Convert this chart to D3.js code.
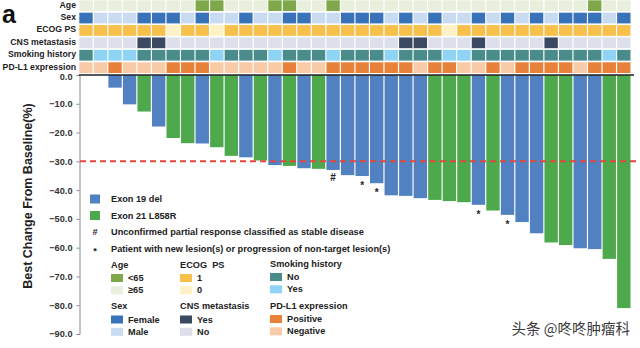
<!DOCTYPE html>
<html>
<head>
<meta charset="utf-8">
<script src="https://cdn.jsdelivr.net/npm/d3@7"></script>
<style>
  body { margin: 0; background: #fff; }
  svg { display: block; font-family: "Liberation Sans", Arial, sans-serif; }
</style>
</head>
<body>
<svg id="chart" width="640" height="348"></svg>
<script>
// best change from baseline per patient, sorted as in the waterfall
const bestChange = [0, 0, -4.4, -10.2, -12.7, -17.9, -21.9, -23.7, -23.8, -25.1,
  -28.1, -28.6, -29.7, -31.3, -31.6, -32.4, -32.6, -33.0, -34.8, -35.1,
  -37.6, -41.8, -42.0, -42.8, -43.4, -43.8, -44.2, -45.1, -47.1, -48.6,
  -51.1, -55.0, -58.2, -59.1, -60.2, -60.5, -63.9, -81.0];
const mutation = ['19', '19', '19', '19', '21', '19', '21', '21', '19', '21',
  '21', '19', '21', '19', '21', '19', '21', '19', '19', '19',
  '19', '19', '19', '19', '21', '21', '21', '19', '21', '19',
  '19', '19', '21', '21', '19', '19', '21', '21'];
const markers = {17: '#', 19: '*', 20: '*', 27: '*', 29: '*'};

// clinical features, 1 = first legend entry
const age = [0,0,0,0,0,0,0,0,1,1, 0,0,0,1,1,0,0,1,0,0, 0,0,0,0,0,0,0,0,0,0, 0,0,0,0,0,1,0,0];
const sex = [1,0,0,0,1,1,1,0,1,0, 0,1,0,0,1,1,0,0,1,1, 1,0,1,0,1,0,0,1,0,1, 0,1,0,1,1,1,0,1];
const ecog = [1,1,1,1,1,1,0,1,1,0, 1,1,1,1,1,1,1,1,1,1, 1,1,1,1,1,0,1,1,1,1, 1,1,1,1,1,1,1,1];
const cns = [0,0,0,0,1,1,0,0,0,0, 0,0,0,0,0,0,0,0,0,0, 0,0,1,1,0,0,0,1,0,0, 0,0,1,0,0,0,0,0];
const smoking = [1,0,0,0,1,1,1,1,1,0, 1,1,1,0,1,1,1,0,1,1, 1,0,1,1,1,0,0,1,1,1, 1,1,1,1,1,1,0,1];
const pdl1 = [0,0,1,0,0,0,1,1,1,0, 0,0,0,0,1,0,0,1,1,1, 1,1,1,0,1,1,0,0,1,0, 1,1,1,1,0,1,1,1];

const rowNames = ['Age', 'Sex', 'ECOG PS', 'CNS metastasis', 'Smoking history', 'PD-L1 expression'];
const rowData = [age, sex, ecog, cns, smoking, pdl1];
// [light, dark] per row; dark = value 1
const rowColors = [
  ['#e8efdc', '#7ea84a'],
  ['#c9dbf1', '#3872b8'],
  ['#fff1c6', '#f7c04a'],
  ['#dde0ea', '#3b4862'],
  ['#8fd3f5', '#4a8b8b'],
  ['#f8caa6', '#e8823a'],
];
const barColors = {'19': '#5181c1', '21': '#4da94b'};
const yTicks = d3.range(0, -91, -10);

const svg = d3.select('#chart');
const ids = d3.range(bestChange.length);

const x = d3.scaleBand().domain(ids).range([79.3, 630.5]).paddingInner(0.08);
const y = d3.scaleLinear().domain([0, -90]).range([75, 334]);
const rowY = d3.scaleBand().domain(rowNames).range([0.3, 73]).paddingInner(0.137);

// heatmap
rowNames.forEach((name, r) => {
  svg.append('g')
    .selectAll('rect')
    .data(ids)
    .join('rect')
    .attr('x', (d) => x(d))
    .attr('y', rowY(name))
    .attr('width', x.bandwidth())
    .attr('height', rowY.bandwidth())
    .attr('fill', (d) => rowColors[r][rowData[r][d]]);

  svg.append('text')
    .attr('x', 76)
    .attr('y', rowY(name) + rowY.bandwidth() / 2 - 1)
    .attr('text-anchor', 'end')
    .attr('dominant-baseline', 'central')
    .style('font-size', '8.7px')
    .style('font-weight', 'bold')
    .attr('fill', '#222')
    .text(name);
});

svg.append('text')
  .attr('x', 2)
  .attr('y', 23)
  .style('font-size', '25px')
  .style('font-weight', 'bold')
  .attr('fill', '#111')
  .text('a');

// bars
svg.append('g')
  .selectAll('rect')
  .data(ids)
  .join('rect')
  .attr('x', (d) => x(d))
  .attr('y', y(0))
  .attr('width', x.bandwidth())
  .attr('height', (d) => y(bestChange[d]) - y(0))
  .attr('fill', (d) => barColors[mutation[d]]);

svg.append('g')
  .selectAll('text')
  .data(Object.keys(markers).map(Number))
  .join('text')
  .attr('x', (d) => x(d) + x.bandwidth() / 2)
  .attr('y', (d) => y(bestChange[d]) + (markers[d] === '#' ? 11 : 13))
  .attr('text-anchor', 'middle')
  .style('font-size', '10px')
  .style('font-weight', 'bold')
  .attr('fill', '#222')
  .text((d) => markers[d]);

// y axis
const yAxis = svg.append('g')
  .attr('transform', 'translate(79.5,0)')
  .call(d3.axisLeft(y).tickValues(yTicks).tickFormat(d3.format('.1f')).tickSize(3).tickPadding(4));
yAxis.select('.domain').attr('stroke', '#888');
yAxis.selectAll('.tick line').attr('stroke', '#888');
yAxis.selectAll('.tick text')
  .style('font-size', '9.2px')
  .style('font-weight', 'bold')
  .style('font-family', '"Liberation Sans", Arial, sans-serif')
  .attr('fill', '#333');
yAxis.selectAll('.tick text').filter((d) => d === 0).attr('dy', '0.32em').attr('y', 1.5);

svg.append('text')
  .attr('transform', 'translate(28,196) rotate(-90)')
  .attr('text-anchor', 'middle')
  .attr('dominant-baseline', 'central')
  .style('font-size', '12.5px')
  .style('font-weight', 'bold')
  .attr('fill', '#222')
  .text('Best Change From Baseline(%)');

// zero line and -30% threshold
svg.append('line')
  .attr('x1', 79).attr('x2', 634)
  .attr('y1', y(0)).attr('y2', y(0))
  .attr('stroke', '#222').attr('stroke-width', 1.5);
svg.append('line')
  .attr('x1', 80).attr('x2', 640)
  .attr('y1', y(-30)).attr('y2', y(-30))
  .attr('stroke', '#e0483c').attr('stroke-width', 2)
  .attr('stroke-dasharray', '6,4');

// legend
const leg = svg.append('g')
  .style('font-size', '9.2px')
  .style('font-weight', 'bold')
  .attr('fill', '#222');

const mutLegend = [['19', 'Exon 19 del', 199], ['21', 'Exon 21 L858R', 215.5]];
mutLegend.forEach(([k, label, cy]) => {
  leg.append('rect').attr('x', 90).attr('y', cy - 4.5).attr('width', 10).attr('height', 9)
    .attr('fill', barColors[k]);
  leg.append('text').attr('x', 111).attr('y', cy).attr('dominant-baseline', 'central').text(label);
});

const noteLegend = [
  ['#', 'Unconfirmed partial response classified as stable disease', 231.7],
  ['*', 'Patient with new lesion(s) or progression of non-target lesion(s)', 248.5],
];
noteLegend.forEach(([sym, label, cy]) => {
  leg.append('text').attr('x', 95).attr('y', cy + (sym === '*' ? 2 : 0))
    .attr('text-anchor', 'middle').attr('dominant-baseline', 'central').text(sym);
  leg.append('text').attr('x', 111).attr('y', cy).attr('dominant-baseline', 'central').text(label);
});

const catLegend = [
  {title: 'Age', row: 0, labels: ['<65', '\u226565'], x: 111, ty: 264.5},
  {title: 'Sex', row: 1, labels: ['Female', 'Male'], x: 111, ty: 306},
  {title: 'ECOG  PS', row: 2, labels: ['1', '0'], x: 180, ty: 264.5},
  {title: 'CNS metastasis', row: 3, labels: ['Yes', 'No'], x: 180, ty: 306},
  {title: 'Smoking history', row: 4, labels: ['No', 'Yes'], x: 270, ty: 263.5},
  {title: 'PD-L1 expression', row: 5, labels: ['Positive', 'Negative'], x: 270, ty: 305.5},
];
catLegend.forEach((g) => {
  leg.append('text').attr('x', g.x).attr('y', g.ty).attr('dominant-baseline', 'central')
    .style('white-space', 'pre').text(g.title);
  g.labels.forEach((label, i) => {
    const cy = g.ty + 13.5 + i * 12.3;
    leg.append('rect').attr('x', g.x).attr('y', cy - 4).attr('width', 12).attr('height', 8)
      .attr('fill', rowColors[g.row][1 - i]);
    leg.append('text').attr('x', g.x + 17).attr('y', cy).attr('dominant-baseline', 'central').text(label);
  });
});

// watermark
svg.append('text')
  .attr('x', 630)
  .attr('y', 334)
  .attr('text-anchor', 'end')
  .style('font-family', '"Noto Sans CJK SC", sans-serif')
  .style('font-size', '14.5px')
  .attr('fill', '#3a3a3a')
  .attr('stroke', '#fff')
  .attr('stroke-width', 2.5)
  .attr('paint-order', 'stroke')
  .text('头条 @咚咚肿瘤科');
</script>
</body>
</html>
